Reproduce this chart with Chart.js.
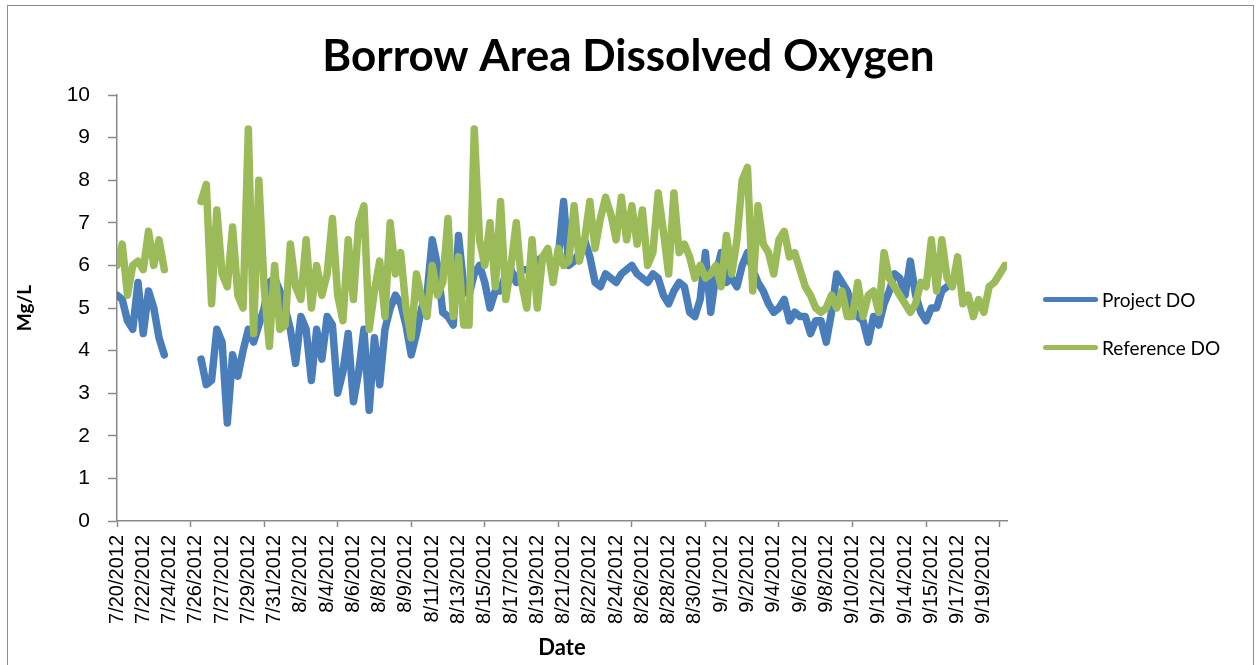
<!DOCTYPE html>
<html>
<head>
<meta charset="utf-8">
<script src="https://cdn.jsdelivr.net/npm/chart.js@4.4.1/dist/chart.umd.min.js"></script>
<style>
html,body{margin:0;padding:0;background:#fff;}
#wrap{position:relative;width:1257px;height:665px;overflow:hidden;background:#fff;}
#frame{position:absolute;left:7px;top:5px;width:1247px;height:720px;border:1px solid #8c8c8c;box-sizing:border-box;}
#cv{position:absolute;left:0;top:0;}
.li{position:absolute;left:1043px;height:24px;display:flex;align-items:center;font-family:Lato,"Liberation Sans",sans-serif;font-size:19px;color:#000;white-space:nowrap;}
.sw{display:inline-block;width:55px;height:5px;border-radius:3px;margin-right:4px;}
</style>
</head>
<body>
<div id="wrap">
  <div id="frame"></div>
  <canvas id="cv" width="1257" height="665"></canvas>
  <div class="li" style="top:287px"><span class="sw" style="background:#4A7EBB"></span><span>Project DO</span></div>
  <div class="li" style="top:335px"><span class="sw" style="background:#9BBB59"></span><span>Reference DO</span></div>
</div>
<script>
// Category axis labels (one label every 5 categories)
const tickLabels = ['7/20/2012','7/22/2012','7/24/2012','7/26/2012','7/27/2012','7/29/2012','7/31/2012',
  '8/2/2012','8/4/2012','8/6/2012','8/8/2012','8/9/2012','8/11/2012','8/13/2012','8/15/2012','8/17/2012',
  '8/19/2012','8/21/2012','8/22/2012','8/24/2012','8/26/2012','8/28/2012','8/30/2012','9/1/2012','9/2/2012',
  '9/4/2012','9/6/2012','9/8/2012','9/10/2012','9/12/2012','9/14/2012','9/15/2012','9/17/2012','9/19/2012'];

// Project DO (Mg/L), one value per category
const projectDO = [
  5.3,5.2,4.7,4.5,5.6,4.4,5.4,5.0,4.3,3.9,
  null,null,null,null,null,null,3.8,3.2,3.3,4.5,
  4.2,2.3,3.9,3.4,4.0,4.5,4.2,4.6,5.0,5.6,
  5.7,5.4,5.0,4.5,3.7,4.8,4.5,3.3,4.5,3.8,
  4.8,4.6,3.0,3.5,4.4,2.8,3.5,4.5,2.6,4.3,
  3.2,4.5,5.0,5.3,5.1,4.6,3.9,4.4,5.0,5.3,
  6.6,6.0,4.9,4.8,4.6,6.7,5.5,5.3,5.8,6.0,
  5.6,5.0,5.4,5.4,5.8,5.9,5.6,5.9,5.9,5.9,
  6.1,6.2,6.2,6.0,6.2,7.5,6.0,6.1,6.3,6.6,
  6.2,5.6,5.5,5.8,5.7,5.6,5.8,5.9,6.0,5.8,
  5.7,5.6,5.8,5.7,5.3,5.1,5.4,5.6,5.5,4.9,
  4.8,5.2,6.3,4.9,5.8,6.3,5.6,5.7,5.5,6.0,
  6.3,5.9,5.6,5.4,5.1,4.9,5.0,5.2,4.7,4.9,
  4.8,4.8,4.4,4.7,4.7,4.2,4.9,5.8,5.6,5.4,
  5.0,4.8,4.7,4.2,4.8,4.6,5.1,5.4,5.8,5.7,
  5.3,6.1,5.3,4.9,4.7,5.0,5.0,5.4,5.5,5.6,
  null,null,null,null,null,null,null,null,null,null
];

// Reference DO (Mg/L), one value per category
const referenceDO = [
  6.0,6.5,5.3,6.0,6.1,5.9,6.8,6.0,6.6,5.9,
  null,null,null,null,null,null,7.5,7.9,5.1,7.3,
  5.8,5.5,6.9,5.3,5.0,9.2,4.4,8.0,5.5,4.1,
  6.0,4.5,4.6,6.5,5.5,5.2,6.6,5.0,6.0,5.3,
  5.8,7.1,5.3,4.7,6.6,5.2,7.0,7.4,4.5,5.4,
  6.1,4.8,7.0,5.8,6.3,5.0,4.3,5.8,5.2,4.8,
  6.0,5.3,5.6,7.1,4.8,6.2,4.6,4.6,9.2,6.6,
  6.0,7.0,5.5,7.5,5.2,6.0,7.0,5.6,5.0,6.6,
  5.0,6.2,6.4,5.6,6.4,6.0,6.1,7.4,6.1,6.6,
  7.5,6.4,7.1,7.6,7.2,6.6,7.6,6.6,7.4,6.5,
  7.3,6.0,6.3,7.7,6.8,5.8,7.7,6.3,6.5,6.2,
  5.7,6.0,5.7,5.8,6.0,5.5,6.7,5.8,6.6,8.0,
  8.3,5.4,7.4,6.5,6.3,5.8,6.6,6.8,6.2,6.3,
  5.9,5.5,5.3,5.0,4.9,5.0,5.3,5.0,5.4,4.8,
  4.8,5.6,4.8,5.3,5.4,4.9,6.3,5.7,5.5,5.3,
  5.1,4.9,5.1,5.6,5.5,6.6,5.4,6.6,5.7,5.5,
  6.2,5.1,5.3,4.8,5.2,4.9,5.5,5.6,5.8,6.0
];

const LABEL_EVERY = 5;
const TICKMARK_EVERY = 14;
const AXIS_GRAY = '#898989';

const toPoints = arr => arr.map((v, i) => ({x: i, y: v}));

Chart.defaults.font.family = '"Liberation Sans", Arial, sans-serif';
Chart.defaults.color = '#000';

new Chart(document.getElementById('cv'), {
  type: 'line',
  data: {
    datasets: [
      {
        label: 'Project DO',
        data: toPoints(projectDO),
        borderColor: '#4A7EBB',
        backgroundColor: '#4A7EBB',
        borderWidth: 7.5,
        pointRadius: 0,
        tension: 0,
        spanGaps: false,
        borderJoinStyle: 'round',
        borderCapStyle: 'round',
        order: 2
      },
      {
        label: 'Reference DO',
        data: toPoints(referenceDO),
        borderColor: '#9BBB59',
        backgroundColor: '#9BBB59',
        borderWidth: 7.5,
        pointRadius: 0,
        tension: 0,
        spanGaps: false,
        borderJoinStyle: 'round',
        borderCapStyle: 'round',
        order: 1
      }
    ]
  },
  options: {
    responsive: false,
    animation: false,
    devicePixelRatio: 1,
    layout: {padding: {left: 0, right: 0, top: 0, bottom: 0}},
    plugins: {
      legend: {display: false},
      tooltip: {enabled: false},
      title: {
        display: true,
        text: 'Borrow Area Dissolved Oxygen',
        font: {family: 'Lato', size: 44, weight: 'bold'},
        color: '#000',
        padding: {top: 30.6, bottom: 11.6}
      }
    },
    scales: {
      x: {
        type: 'linear',
        min: 0,
        max: 169.4,
        offset: false,
        afterFit: s => { s.height = 144; },
        border: {display: true, color: AXIS_GRAY, width: 1.5},
        grid: {
          drawOnChartArea: false,
          drawTicks: true,
          tickLength: 6,
          tickWidth: 1.5,
          tickColor: c => (c.tick && c.tick.value % TICKMARK_EVERY === 0) ? AXIS_GRAY : 'rgba(0,0,0,0)'
        },
        ticks: {
          stepSize: 1,
          autoSkip: false,
          includeBounds: false,
          minRotation: 90,
          maxRotation: 90,
          padding: 8,
          font: {size: 20},
          color: '#000',
          callback: v => (v % LABEL_EVERY === 0 && tickLabels[v / LABEL_EVERY] !== undefined) ? tickLabels[v / LABEL_EVERY] : ''
        },
        title: {
          display: true,
          text: 'Date',
          font: {family: 'Lato', size: 22, weight: 'bold'},
          color: '#000',
          padding: {top: 0, bottom: 4}
        }
      },
      y: {
        min: 0,
        max: 10,
        afterFit: s => { s.width = 117; },
        border: {display: true, color: AXIS_GRAY, width: 1.5},
        grid: {
          drawOnChartArea: false,
          drawTicks: true,
          tickLength: 9,
          tickWidth: 1.5,
          tickColor: AXIS_GRAY
        },
        ticks: {
          stepSize: 1,
          padding: 18,
          font: {size: 21},
          color: '#000'
        },
        title: {
          display: true,
          text: 'Mg/L',
          font: {family: 'Lato', size: 19, weight: 'bold'},
          color: '#000',
          padding: {top: 13.6, bottom: 0}
        }
      },
      legendSpace: {
        type: 'linear',
        position: 'right',
        display: true,
        afterFit: s => { s.width = 250; },
        border: {display: false},
        grid: {display: false, drawTicks: false},
        ticks: {display: false},
        title: {display: false}
      }
    }
  }
});
</script>
</body>
</html>
